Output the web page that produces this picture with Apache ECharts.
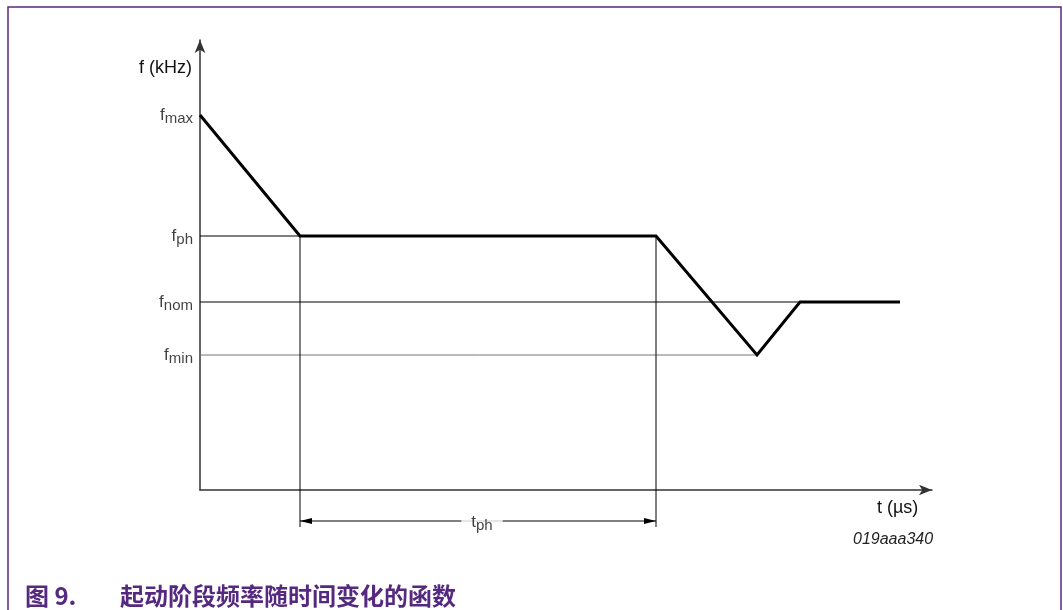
<!DOCTYPE html>
<html>
<head>
<meta charset="utf-8">
<script src="https://cdn.jsdelivr.net/npm/echarts@6/dist/echarts.min.js"></script>
<style>
  html, body { margin: 0; padding: 0; background: #fff; }
  #chart { width: 1063px; height: 610px; }
</style>
</head>
<body>
<div id="chart"></div>
<script>
// Start-up phase: frequency as a function of time (arbitrary units)
const timePoints = [0, 100, 456, 557, 600, 700];
const freqPoints = [375, 254, 254, 135, 188, 188];

// Named frequency levels (subscript of f) and their values
const levelNames = ['max', 'ph', 'nom', 'min'];
const levelValues = [375, 254, 188, 135];

// Extent of the thin guide line drawn for each level (none for f_max)
const levelLineEnds = [null, 100, 600, 557];
const levelLineColors = [null, '#000', '#000', '#777'];

// Preheat interval t_ph
const tphStart = 100;
const tphEnd = 456;
const tphArrowLevel = -31;
const tphDropEnd = -37;

const axisMaxT = 732;
const axisMaxF = 450;

const FONT = '"Liberation Sans", Arial, sans-serif';
const CJK = '"Noto Sans CJK SC", sans-serif';
const PURPLE = '#55297f';

const curveData = timePoints.map((t, i) => [t, freqPoints[i]]);

const guideSeries = [];
levelValues.forEach((v, i) => {
  if (levelLineEnds[i] == null) return;
  guideSeries.push({
    type: 'line',
    data: [[0, v], [levelLineEnds[i], v]],
    symbol: 'none',
    lineStyle: { color: levelLineColors[i], width: 1 },
    z: 2
  });
});

// Vertical markers at the start and end of t_ph, running below the time axis
[tphStart, tphEnd].forEach(t => {
  const f = freqPoints[timePoints.indexOf(t)];
  guideSeries.push({
    type: 'line',
    data: [[t, f], [t, tphDropEnd]],
    symbol: 'none',
    clip: false,
    lineStyle: { color: '#000', width: 1 },
    z: 2
  });
});

// f / t with a lowered subscript
const subRich = {
  f: { fontFamily: FONT, fontSize: 17, color: '#111', lineHeight: 17, verticalAlign: 'top' },
  s: { fontFamily: FONT, fontSize: 15, color: '#111', lineHeight: 15, padding: [5, 0, 0, 0], verticalAlign: 'top' }
};

const chart = echarts.init(document.getElementById('chart'), null, { renderer: 'canvas' });
chart.setOption({
  animation: false,
  backgroundColor: '#fff',
  grid: { left: 200, right: 1063 - 932, top: 40, bottom: 120 },
  title: [
    {
      text: '019aaa340', left: 848, top: 527,
      textStyle: { fontFamily: FONT, fontSize: 16, fontStyle: 'italic', fontWeight: 'normal', color: '#222' }
    },
    {
      text: '图 9.', left: 20, top: 579,
      textStyle: { fontFamily: CJK, fontSize: 24, fontWeight: 'bold', color: PURPLE }
    },
    {
      text: '起动阶段频率随时间变化的函数', left: 115, top: 579,
      textStyle: { fontFamily: CJK, fontSize: 24, fontWeight: 'bold', color: PURPLE }
    }
  ],
  graphic: [
    {
      type: 'rect', silent: true,
      shape: { x: 8, y: 7, width: 1053, height: 700 },
      style: { fill: 'none', stroke: PURPLE, lineWidth: 1.5 }
    }
  ],
  xAxis: {
    type: 'value', min: 0, max: axisMaxT,
    name: 't (µs)', nameLocation: 'end', nameGap: -55,
    nameTextStyle: { fontFamily: FONT, fontSize: 18, color: '#111', align: 'left', verticalAlign: 'top', padding: [9, 0, 0, 0] },
    axisLine: { show: true, onZero: false, symbol: ['none', 'arrow'], symbolSize: [8, 13], lineStyle: { color: '#333', width: 1.5 } },
    axisTick: { show: false }, axisLabel: { show: false }, splitLine: { show: false }
  },
  yAxis: {
    type: 'value', min: 0, max: axisMaxF,
    name: 'f (kHz)', nameLocation: 'end', nameGap: -28,
    nameTextStyle: { fontFamily: FONT, fontSize: 18, color: '#111', align: 'right', verticalAlign: 'middle', padding: [0, 8, 0, 0] },
    axisLine: { show: true, onZero: false, symbol: ['none', 'arrow'], symbolSize: [8, 13], lineStyle: { color: '#333', width: 1.5 } },
    axisTick: { show: false }, axisLabel: { show: false }, splitLine: { show: false }
  },
  series: [
    ...guideSeries,
    {
      // frequency profile
      type: 'line',
      data: curveData,
      symbol: 'none',
      lineStyle: { color: '#000', width: 3, join: 'miter' },
      z: 5
    },
    {
      // double-headed dimension arrow for t_ph
      type: 'line',
      clip: false,
      showSymbol: true,
      symbol: 'triangle',
      symbolSize: [6, 12],
      itemStyle: { color: '#000' },
      lineStyle: { color: '#000', width: 1 },
      data: [
        { value: [tphStart, tphArrowLevel], symbolRotate: 90, symbolOffset: [6, 0] },
        { value: [tphEnd, tphArrowLevel], symbolRotate: -90, symbolOffset: [-6, 0] }
      ],
      z: 3
    },
    {
      // t_ph caption centred on the dimension arrow
      type: 'scatter',
      clip: false,
      symbolSize: 0,
      data: [[(tphStart + tphEnd) / 2, tphArrowLevel, 'ph']],
      label: {
        show: true, position: 'inside', offset: [4, 1],
        formatter: p => '{f|t}{s|' + p.value[2] + '}',
        backgroundColor: '#fff', padding: [0, 10, 0, 10],
        rich: subRich
      },
      z: 6
    },
    {
      // level labels on the frequency axis
      type: 'scatter',
      data: levelValues.map((v, i) => [0, v, levelNames[i]]),
      symbolSize: 0,
      clip: false,
      label: {
        show: true, position: 'left', distance: 7,
        formatter: p => '{f|f}{s|' + p.value[2] + '}',
        rich: subRich
      },
      z: 6
    }
  ]
});
</script>
</body>
</html>
